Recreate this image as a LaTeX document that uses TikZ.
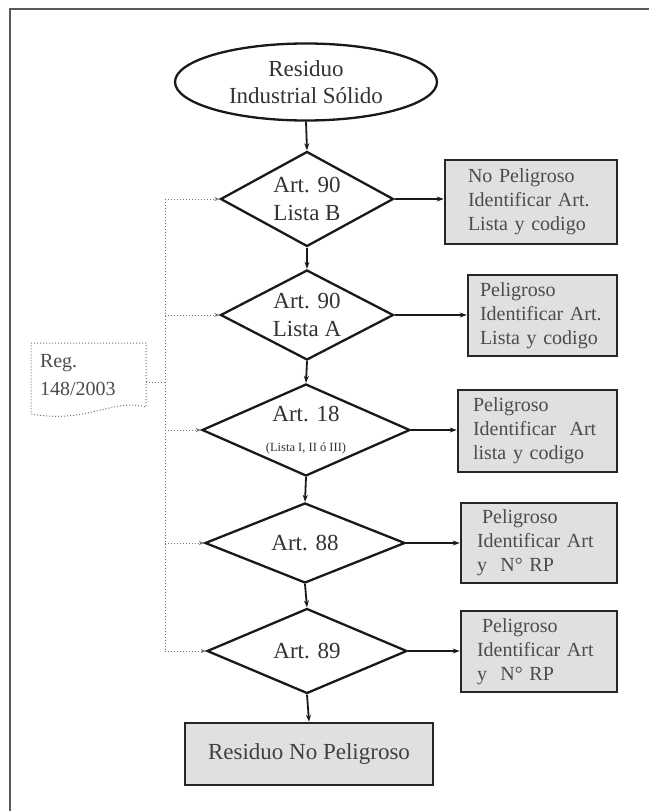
\documentclass[tikz,border=0pt]{standalone}
\usepackage{fontspec}
\setmainfont{Liberation Serif}
\usetikzlibrary{shapes.geometric,arrows.meta}
\begin{document}
\begin{tikzpicture}[x=1pt,y=-1pt,
  dia/.style={diamond, draw=black!90, line width=2.3pt, inner sep=0pt, align=center,
    text=black!80, font=\fontsize{23}{28}\selectfont},
  gbox/.style={rectangle, draw=black!85, line width=2.6pt, fill=black!12, align=left,
    text=black!70, font=\fontsize{20}{24}\selectfont},
  arr/.style={-{Stealth[length=7pt,width=5pt]}, line width=1.8pt, draw=black!90},
  dot/.style={dotted, line width=1pt, draw=black!55},
  dotarr/.style={dot, -{Stealth[length=5pt,width=4pt]}}
]
\useasboundingbox (0,0) rectangle (649,811);
\fill[white] (0,0) rectangle (649,811);
\draw[black!65, line width=1.6pt] (10,811) -- (10,9) -- (649,9);

% start ellipse
\node[ellipse, draw=black!90, line width=2.3pt, minimum width=262pt, minimum height=77pt,
  inner sep=0pt, align=center, text=black!80, font=\fontsize{23}{27}\selectfont]
  (start) at (306,82) {Residuo\\Industrial Sólido};

% decisions
\node[dia, aspect=1.82, minimum width=173pt, minimum height=95pt] (d1) at (307,199) {Art. 90\\Lista B};
\node[dia, aspect=1.92, minimum width=173pt, minimum height=90pt] (d2) at (307,315) {Art. 90\\Lista A};
\node[dia, aspect=2.26, minimum width=208pt, minimum height=92pt] (d3) at (306,430)
  {Art. 18\\[2pt]{\fontsize{12.5}{14}\selectfont (Lista I, II ó III)}};
\node[dia, aspect=2.5, minimum width=200pt, minimum height=80pt] (d4) at (305,543) {Art. 88};
\node[dia, aspect=2.35, minimum width=200pt, minimum height=85pt] (d5) at (307,651) {Art. 89};

% result boxes
\node[gbox, minimum height=84pt, inner xsep=23pt, text width=126pt] (b1) at (531,202)
  {No Peligroso\\Identificar Art.\\Lista y codigo};
\node[gbox, minimum height=81pt, inner xsep=12pt, text width=125pt] (b2) at (542.5,315.5)
  {Peligroso\\Identificar Art.\\Lista y codigo};
\node[gbox, minimum height=82pt, inner xsep=15pt, text width=129pt] (b3) at (537.5,431)
  {Peligroso\\Identificar\ \ Art\\lista y codigo};
\node[gbox, minimum height=80pt, inner xsep=16pt, text width=124pt] (b4) at (539,543)
  {\hspace{5pt}Peligroso\\Identificar Art\\y\ \ N° RP};
\node[gbox, minimum height=81pt, inner xsep=16pt, text width=124pt] (b5) at (539,651.5)
  {\hspace{5pt}Peligroso\\Identificar Art\\y\ \ N° RP};

% final box
\node[rectangle, draw=black!85, line width=2.6pt, fill=black!12, minimum width=248pt,
  minimum height=62pt, text=black!75, font=\fontsize{23}{27}\selectfont]
  (fin) at (309,754) {Residuo No Peligroso};

% regulation note
\node[minimum width=115pt, minimum height=64pt, inner xsep=9pt, text width=97pt, align=left,
  text=black!70, font=\fontsize{20}{28}\selectfont] (reg) at (88.5,375) {Reg.\\148/2003};
\draw[dot] (31,343) -- (146,343) -- (146,407)
  .. controls (112,398) and (88,424) .. (31,414) -- cycle;

% main flow
\draw[arr] (start.south) -- (d1.north);
\draw[arr] (d1.south) -- (d2.north);
\draw[arr] (d2.south) -- (d3.north);
\draw[arr] (d3.south) -- (d4.north);
\draw[arr] (d4.south) -- (d5.north);
\draw[arr] (d5.south) -- (fin.north);

\draw[arr] (d1.east) -- (d1.east -| b1.west);
\draw[arr] (d2.east) -- (d2.east -| b2.west);
\draw[arr] (d3.east) -- (d3.east -| b3.west);
\draw[arr] (d4.east) -- (d4.east -| b4.west);
\draw[arr] (d5.east) -- (d5.east -| b5.west);

% dotted regulation links
\coordinate (vt) at (165,199);
\coordinate (vb) at (165,651);
\draw[dot] (vt) -- (vb);
\draw[dotarr] (d1.west -| vt) -- (d1.west);
\draw[dotarr] (d2.west -| vt) -- (d2.west);
\draw[dotarr] (d3.west -| vt) -- (d3.west);
\draw[dotarr] (d4.west -| vt) -- (d4.west);
\draw[dotarr] (d5.west -| vt) -- (d5.west);
\coordinate (rc) at ([yshift=-7pt]reg.east);
\draw[dot] (rc) -- (rc -| vt);
\end{tikzpicture}
\end{document}
